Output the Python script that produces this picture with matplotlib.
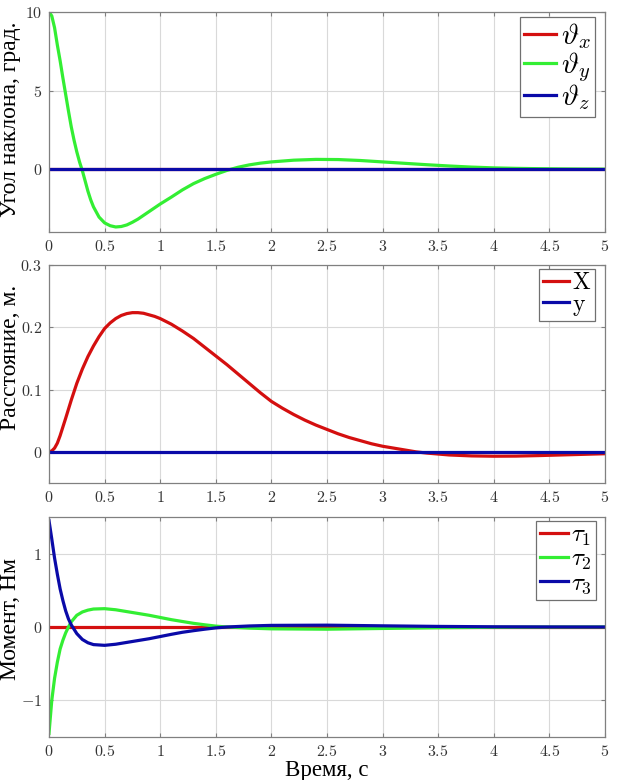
import matplotlib
matplotlib.use("Agg")
import matplotlib.pyplot as plt
from matplotlib.ticker import FuncFormatter, MultipleLocator

plt.rcParams['mathtext.fontset'] = 'cm'
plt.rcParams['font.family'] = ['Liberation Serif', 'DejaVu Serif']

# ---- Data ----
t1 = [0, 0.025, 0.05, 0.075, 0.1, 0.125, 0.15, 0.175, 0.2, 0.225, 0.25, 0.275,
      0.3, 0.325, 0.35, 0.375, 0.4, 0.45, 0.5, 0.55, 0.6, 0.65, 0.7, 0.75, 0.8,
      0.9, 1.0, 1.1, 1.2, 1.3, 1.4, 1.5, 1.6, 1.7, 1.8, 1.9, 2.0, 2.2, 2.4, 2.6,
      2.8, 3.0, 3.2, 3.4, 3.6, 3.8, 4.0, 4.2, 4.4, 4.6, 4.8, 5.0]
theta_y = [10, 9.75, 9.0, 7.9, 6.9, 5.8, 4.75, 3.7, 2.7, 1.85, 1.1, 0.45,
           -0.1, -0.75, -1.4, -1.95, -2.4, -3.05, -3.42, -3.6, -3.68, -3.65, -3.55, -3.38, -3.18,
           -2.7, -2.22, -1.78, -1.32, -0.92, -0.6, -0.33, -0.08, 0.12, 0.27, 0.38, 0.46, 0.57, 0.62, 0.61,
           0.55, 0.46, 0.37, 0.28, 0.2, 0.13, 0.08, 0.05, 0.03, 0.015, 0.005, 0.0]
theta_x = [0.0] * len(t1)
theta_z = [0.0] * len(t1)

t2 = [0, 0.025, 0.05, 0.075, 0.1, 0.125, 0.15, 0.2, 0.25, 0.3, 0.35, 0.4, 0.45, 0.5,
      0.55, 0.6, 0.65, 0.7, 0.75, 0.8, 0.85, 0.9, 0.95, 1.0, 1.1, 1.2, 1.3, 1.4, 1.5,
      1.6, 1.7, 1.8, 1.9, 2.0, 2.1, 2.2, 2.3, 2.4, 2.5, 2.6, 2.7, 2.8, 2.9, 3.0, 3.1,
      3.2, 3.3, 3.4, 3.6, 3.8, 4.0, 4.2, 4.4, 4.6, 4.8, 5.0]
pos_x = [0, 0.0015, 0.006, 0.014, 0.026, 0.04, 0.054, 0.083, 0.11, 0.133, 0.153, 0.17, 0.185, 0.198,
         0.207, 0.214, 0.219, 0.222, 0.2235, 0.2235, 0.2225, 0.22, 0.2175, 0.214, 0.205, 0.194, 0.182, 0.168, 0.154,
         0.14, 0.125, 0.11, 0.095, 0.081, 0.07, 0.06, 0.051, 0.043, 0.036, 0.029, 0.023, 0.018, 0.013, 0.009, 0.006,
         0.003, 0.0, -0.002, -0.005, -0.0065, -0.007, -0.0068, -0.006, -0.005, -0.004, -0.003]
pos_y = [0.0] * len(t2)

t3 = [0, 0.025, 0.05, 0.075, 0.1, 0.125, 0.15, 0.175, 0.2, 0.25, 0.3, 0.35, 0.4,
      0.5, 0.6, 0.7, 0.8, 0.9, 1.0, 1.1, 1.2, 1.3, 1.4, 1.5, 1.6, 1.8, 2.0, 2.5,
      3.0, 3.5, 4.0, 4.5, 5.0]
tau1 = [0.0] * len(t3)
tau2 = [-1.45, -1.0, -0.7, -0.48, -0.3, -0.18, -0.08, 0.0, 0.07, 0.16, 0.205, 0.23, 0.245,
        0.25, 0.235, 0.21, 0.185, 0.16, 0.13, 0.1, 0.075, 0.05, 0.03, 0.012, 0.0, -0.015, -0.025, -0.03,
        -0.02, -0.01, -0.004, -0.001, 0.0]
tau3 = [1.45, 1.2, 0.94, 0.72, 0.52, 0.36, 0.22, 0.11, 0.03, -0.09, -0.17, -0.215, -0.24,
        -0.25, -0.235, -0.21, -0.185, -0.16, -0.13, -0.1, -0.072, -0.05, -0.03, -0.012, 0.0, 0.014, 0.022, 0.025,
        0.016, 0.008, 0.003, 0.001, 0.0]

ylabels = ['Угол наклона, град.', 'Расстояние, м.', 'Момент, Нм']
xlabel = 'Время, с'

RED = '#d40f0f'
GREEN = '#33ee33'
BLUE = '#0a0aa8'

fig = plt.figure(figsize=(6.2, 7.8), dpi=100)
L, R = 49 / 620, 605 / 620
def pos(top, bot):
    return [L, 1 - bot / 780, R - L, (bot - top) / 780]

ax1 = fig.add_axes(pos(12, 232))
ax2 = fig.add_axes(pos(265, 483))
ax3 = fig.add_axes(pos(517, 737))

def fmt(v, p):
    if abs(v - round(v)) < 1e-9:
        s = '%d' % round(v)
    else:
        s = ('%.2f' % v).rstrip('0')
    return '$' + s + '$'

def style(ax, ylim, ystep):
    ax.set_xlim(0, 5)
    ax.set_ylim(*ylim)
    ax.xaxis.set_major_locator(MultipleLocator(0.5))
    ax.yaxis.set_major_locator(MultipleLocator(ystep))
    ax.xaxis.set_major_formatter(FuncFormatter(fmt))
    ax.yaxis.set_major_formatter(FuncFormatter(fmt))
    ax.grid(True, color='#d9d9d9', linewidth=0.8)
    ax.set_axisbelow(True)
    for s in ax.spines.values():
        s.set_color('#808080')
        s.set_linewidth(0.9)
    ax.tick_params(direction='in', length=3, color='#808080', labelsize=11.5,
                   labelcolor='#333333', top=True, right=True, pad=5)

lw = 2.3
ax1.plot(t1, theta_x, color=RED, lw=lw, label=r'$\vartheta_x$')
ax1.plot(t1, theta_y, color=GREEN, lw=lw, label=r'$\vartheta_y$')
ax1.plot(t1, theta_z, color=BLUE, lw=lw, label=r'$\vartheta_z$')
style(ax1, (-4, 10), 5)
ax1.set_yticks([0, 5, 10])

ax2.plot(t2, pos_x, color=RED, lw=lw, label=r'$\mathrm{X}$')
ax2.plot(t2, pos_y, color=BLUE, lw=lw, label=r'$\mathrm{y}$')
style(ax2, (-0.05, 0.3), 0.1)
ax2.set_yticks([0, 0.1, 0.2, 0.3])

ax3.plot(t3, tau1, color=RED, lw=lw, label=r'$\tau_1$')
ax3.plot(t3, tau2, color=GREEN, lw=lw, label=r'$\tau_2$')
ax3.plot(t3, tau3, color=BLUE, lw=lw, label=r'$\tau_3$')
style(ax3, (-1.5, 1.5), 1)
ax3.set_yticks([-1, 0, 1])

for ax, lab, yc in zip([ax1, ax2, ax3], ylabels, [0.51, 0.575, 0.535]):
    ax.set_ylabel(lab, fontsize=17)
    ax.yaxis.set_label_coords(-0.05, yc)
ax3.set_xlabel(xlabel, fontsize=16.5, labelpad=0)

def leg(ax, anchor, size, spacing):
    lg = ax.legend(loc='upper right', bbox_to_anchor=anchor, borderaxespad=0,
                   fontsize=size, handlelength=1.1, handletextpad=0.15,
                   labelspacing=spacing, borderpad=0.15, fancybox=False,
                   framealpha=1, edgecolor='#707070')
    lg.get_frame().set_linewidth(0.9)

leg(ax1, (0.982, 0.977), 21, -0.05)
leg(ax2, (0.982, 0.982), 17, 0.0)
leg(ax3, (0.984, 0.982), 18, 0.0)

fig.savefig('out.png', dpi=100)
